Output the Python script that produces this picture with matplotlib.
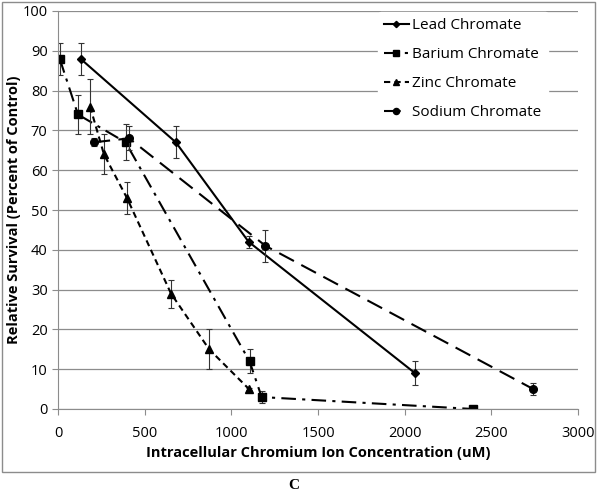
import numpy as np
import matplotlib.pyplot as plt
from matplotlib.patches import Rectangle

# values
lead_x = [130, 680, 1100, 2060]
lead_y = [88, 67, 42, 9]
lead_err = [4, 4, 1.5, 3]

barium_x = [10, 115, 390, 1105, 1175, 2395]
barium_y = [88, 74, 67, 12, 3, 0]
barium_err = [4, 5, 4.5, 3, 1.5, 0]

zinc_x = [185, 265, 398, 652, 872, 1102]
zinc_y = [76, 64, 53, 29, 15, 5]
zinc_err = [7, 5, 4, 3.5, 5, 0.3]

sodium_x = [205, 410, 1197, 2742]
sodium_y = [67, 68, 41, 5]
sodium_err = [1, 3, 4, 1.5]

plt.rcParams['font.family'] = ['Open Sans', 'DejaVu Sans']

fig = plt.figure(figsize=(6, 4.93), dpi=100)
ax = fig.add_axes([58 / 600, 1 - 409 / 493, 520 / 600, 398 / 493])

series = [
    ("Lead Chromate", lead_x, lead_y, lead_err, '-', 'D', 4),
    ("Barium Chromate", barium_x, barium_y, barium_err, (0, (7, 3, 1.5, 3)), 's', 5.5),
    ("Zinc Chromate", zinc_x, zinc_y, zinc_err, (0, (3, 2)), '^', 5.5),
    ("Sodium Chromate", sodium_x, sodium_y, sodium_err, (0, (8, 4)), 'o', 5.5),
]
for name, x, y, e, ls, m, ms in series:
    ax.errorbar(x, y, yerr=e, fmt='none', ecolor='#333333', elinewidth=0.8,
                capsize=2.5, capthick=0.8)
    ax.plot(x, y, color='black', linestyle=ls, linewidth=1.5,
            marker=m, markersize=ms, label=name)

ax.set_xlim(0, 3000)
ax.set_ylim(0, 100)
ax.set_xticks(np.arange(0, 3001, 500))
ax.set_yticks(np.arange(0, 101, 10))
ax.grid(axis='y', color='#8c8c8c', linewidth=0.9)
ax.set_axisbelow(True)
for s in ['top', 'right']:
    ax.spines[s].set_visible(False)
ax.spines['left'].set_color('#8c8c8c')
ax.spines['bottom'].set_color('#8c8c8c')
ax.tick_params(axis='both', colors='#8c8c8c', labelcolor='black', labelsize=10.5, length=4)
ax.tick_params(axis='x', pad=8)

ax.set_xlabel("Intracellular Chromium Ion Concentration (uM)", fontsize=10.5,
              fontweight='bold', labelpad=4)
ax.set_ylabel("Relative Survival (Percent of Control)", fontsize=10.5,
              fontweight='bold', labelpad=1)

leg = ax.legend(loc='upper left', bbox_to_anchor=(378 / 600, 1 - 12 / 493),
                bbox_transform=fig.transFigure, frameon=True, fontsize=11,
                handlelength=1.6, handletextpad=0.25, labelspacing=0.92,
                borderaxespad=0, markerscale=0.8)
leg.get_frame().set_edgecolor('white')
leg.get_frame().set_alpha(1)

fig.patches.append(Rectangle((2 / 600, 1 - 472 / 493), 593 / 600, 470 / 493,
                             transform=fig.transFigure, fill=False,
                             edgecolor='#8c8c8c', linewidth=1))
fig.text(294 / 600, 1 - 479 / 493, "C", ha='center', va='top', fontsize=11,
         fontweight='bold', family='Liberation Serif')

fig.savefig("out.png", dpi=100)
